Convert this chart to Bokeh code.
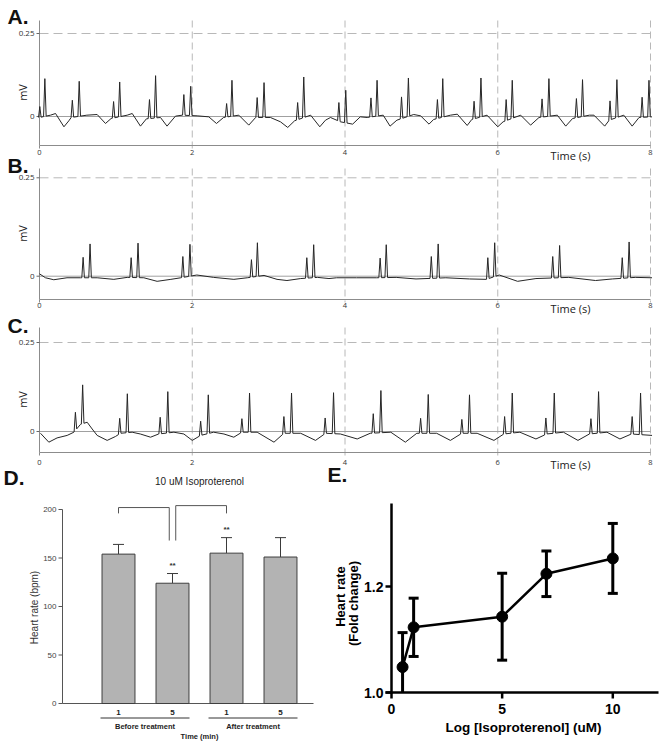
import numpy as np
from bokeh.plotting import figure
from bokeh.models import Range1d
from bokeh.embed import file_html
from bokeh.resources import INLINE
from bokeh.core.properties import value

# ================= DATA =================
TIME_TICKS = [0, 2, 4, 6, 8]
MV_TICKS = [0, 0.25]
MV_TICK_LABELS = ["0", "0.25"]

# ---- Trace A ----
A_p_t = [0.004, 0.43, 0.97, 1.44, 1.89, 2.45, 2.85, 3.38, 3.92, 4.34, 4.74, 5.21, 5.69, 6.11, 6.58, 7.03, 7.47, 7.89]
A_p_v = [0.030, 0.049, 0.045, 0.051, 0.066, 0.039, 0.057, 0.042, 0.042, 0.056, 0.059, 0.051, 0.046, 0.051, 0.053, 0.054, 0.047, 0.058]
A_r_t = [0.07, 0.52, 1.05, 1.52, 1.98, 2.52, 2.94, 3.46, 4.01, 4.42, 4.83, 5.28, 5.78, 6.19, 6.67, 7.11, 7.56, 7.98]
A_r_v = [0.114, 0.106, 0.104, 0.123, 0.091, 0.109, 0.102, 0.119, 0.079, 0.109, 0.116, 0.114, 0.116, 0.109, 0.114, 0.111, 0.111, 0.109]
A_bl_t = [0.0, 0.144, 0.21, 0.32, 0.384, 0.415, 0.62, 0.755, 0.864, 0.938, 1.148, 1.214, 1.322, 1.40,
          1.584, 1.67, 1.78, 1.868, 2.064, 2.217, 2.317, 2.41, 2.61, 2.74, 2.83, 3.024, 3.155, 3.25, 3.34,
          3.55, 3.67, 3.745, 3.81, 3.94, 4.1, 4.2, 4.29, 4.5, 4.59, 4.68, 4.90, 4.99, 5.10, 5.16, 5.38, 5.47,
          5.6, 5.66, 5.86, 6.0, 6.07, 6.3, 6.43, 6.54, 6.78, 6.89, 6.98, 7.2, 7.26, 7.4, 7.46, 7.65, 7.76,
          7.85, 8.02]
A_bl_v = [-0.003, 0.004, 0.009, -0.031, -0.013, -0.003, 0.004, 0.006, -0.021, -0.006, 0.004, 0.009, -0.029, -0.007,
          -0.003, -0.029, 0.001, 0.004, 0.002, -0.001, -0.021, -0.003, 0.004, -0.026, -0.003, -0.003, -0.016, -0.033, -0.013,
          0.004, -0.031, -0.011, -0.003, -0.016, -0.023, -0.001, -0.003, 0.004, -0.029, -0.011, 0.006, 0.002, -0.023, -0.009, 0.004, 0.007,
          -0.027, -0.009, 0.004, -0.031, -0.016, 0.004, -0.026, -0.003, 0.004, -0.029, -0.006, 0.004, 0.004, -0.029, -0.011, 0.004, -0.029,
          -0.003, -0.001]

# ---- Trace B ----
B_p_t = [0.571, 1.20, 1.877, 2.775, 3.50, 4.46, 5.13, 5.87, 6.72, 7.63]
B_p_v = [0.048, 0.047, 0.050, 0.042, 0.047, 0.046, 0.050, 0.047, 0.050, 0.047]
B_r_t = [0.662, 1.29, 1.97, 2.853, 3.59, 4.54, 5.22, 5.96, 6.81, 7.72]
B_r_v = [0.082, 0.084, 0.081, 0.085, 0.080, 0.080, 0.082, 0.085, 0.078, 0.087]
B_bl_t = [0.0, 0.078, 0.187, 0.36, 0.537, 0.755, 0.973, 1.148, 1.366, 1.54, 1.72, 1.85, 2.06, 2.28, 2.545,
          2.72, 2.94, 3.11, 3.24, 3.42, 3.64, 3.79, 3.89, 4.15, 4.41, 4.67, 4.93, 5.32, 5.63, 5.85, 6.02,
          6.26, 6.5, 6.93, 7.28, 7.5, 7.8, 8.02]
B_bl_v = [0.006, -0.004, -0.009, -0.004, -0.004, -0.004, -0.008, -0.003, -0.004, -0.013, -0.008, -0.004, 0.003, -0.003, -0.008,
          -0.004, 0.002, -0.008, -0.011, -0.006, -0.003, -0.006, -0.004, -0.004, -0.004, -0.003, -0.007, -0.004, -0.007, -0.008, 0.003,
          -0.013, -0.006, -0.003, -0.011, -0.007, -0.003, -0.004]

# ---- Trace C ----
C_p_t = [0.47, 1.05, 1.58, 2.11, 2.65, 3.20, 3.74, 4.37, 4.99, 5.53, 6.09, 6.63, 7.22, 7.76]
C_p_v = [0.054, 0.037, 0.040, 0.029, 0.036, 0.042, 0.038, 0.050, 0.037, 0.034, 0.042, 0.038, 0.036, 0.042]
C_r_t = [0.565, 1.15, 1.68, 2.21, 2.75, 3.30, 3.85, 4.47, 5.09, 5.63, 6.19, 6.74, 7.32, 7.87]
C_r_v = [0.131, 0.106, 0.112, 0.103, 0.108, 0.108, 0.109, 0.115, 0.104, 0.103, 0.108, 0.108, 0.112, 0.108]
C_bl_t = [0.013, 0.122, 0.23, 0.362, 0.45, 0.537, 0.624, 0.69, 0.755, 0.886, 0.995, 1.06, 1.213, 1.32, 1.454,
          1.56, 1.76, 1.89, 2.0, 2.11, 2.28, 2.415, 2.544, 2.65, 2.85, 3.07, 3.2, 3.42, 3.614, 3.745, 3.94,
          4.16, 4.33, 4.6, 4.79, 4.94, 5.2, 5.38, 5.53, 5.73, 5.95, 6.08, 6.29, 6.5, 6.64, 6.86, 7.05, 7.2,
          7.43, 7.6, 7.75, 8.02]
C_bl_v = [-0.005, -0.03, -0.018, -0.011, -0.002, 0.02, 0.026, 0.007, -0.011, -0.025, -0.014, -0.005, -0.002, -0.007, -0.016,
          -0.007, -0.002, -0.007, -0.025, -0.011, -0.002, -0.007, -0.016, -0.002, -0.002, -0.03, -0.005, -0.005, -0.025, -0.005, -0.007,
          -0.021, -0.005, -0.002, -0.03, -0.005, -0.005, -0.025, -0.005, -0.005, -0.025, -0.007, -0.002, -0.021, -0.007, -0.002, -0.025, -0.007,
          -0.002, -0.021, -0.007, -0.011]

# ---- Panel D ----
D_time = ["1", "5", "1", "5"]
D_mean = [154, 124, 155, 151]
D_err = [10, 10, 16, 20]
D_sig = ["", "**", "**", ""]
D_groups = ["Before treatment", "After treatment"]
D_ticks = [0, 50, 100, 150, 200]

# ---- Panel E ----
E_conc = [0.5, 1, 5, 7, 10]
E_fold = [1.048, 1.123, 1.143, 1.224, 1.253]
E_err = [0.065, 0.055, 0.082, 0.043, 0.066]
E_xticks = [0, 5, 10]
E_yticks = [1.0, 1.2]
E_yticklabels = ["1.0", "1.2"]

# ================= LAYOUT HELPERS =================
ARIAL = "Liberation Sans"
SANS = "Open Sans"
W, H = 660, 742
LETTER_SIZE = "21px"


def build_trace(bl_t, bl_v, p_t, p_v, r_t, r_v, hw=0.017):
    spikes = sorted(zip(list(p_t) + list(r_t), list(p_v) + list(r_v)))
    pts = [(t, v) for t, v in zip(bl_t, bl_v) if all(abs(t - s) > hw for s, _ in spikes)]
    for s, pk in spikes:
        pts.append((s - hw, float(np.interp(s - hw, bl_t, bl_v))))
        pts.append((s, pk))
        pts.append((s + hw, float(np.interp(s + hw, bl_t, bl_v))))
    pts.sort()
    return [q[0] for q in pts], [q[1] for q in pts]


# pixel -> data mappings of each panel (one shared canvas, one pair of ranges per panel)
FRAME_L, XPX = 39, 76.375
ecg_dx = lambda px: (px - FRAME_L) / XPX
mk_dy = lambda zero_px, q_px: (lambda py: (zero_px - py) / ((zero_px - q_px) / 0.25))
dyA = mk_dy(116, 33)
dyB = mk_dy(275.7, 177.3)
dyC = mk_dy(431, 342)
ddx = lambda px: 1 + (px - 118) / 54.0
ddy = lambda py: (703 - py) / 0.97
edx = lambda px: (px - 391) / 22.13
edy = lambda py: E_yticks[0] + (692 - py) / 530.0

p = figure(width=W, height=H,
           x_range=Range1d(ecg_dx(0), ecg_dx(W)), y_range=Range1d(dyA(H), dyA(0)),
           x_axis_type=None, y_axis_type=None,
           min_border=0, min_border_left=0, min_border_right=0,
           min_border_top=0, min_border_bottom=0,
           output_backend="svg", toolbar_location=None)
p.outline_line_color = None
p.background_fill_color = "white"
p.border_fill_color = "white"
p.extra_x_ranges = {"ecg": Range1d(ecg_dx(0), ecg_dx(W)),
                    "d": Range1d(ddx(0), ddx(W)),
                    "e": Range1d(edx(0), edx(W))}
p.extra_y_ranges = {"a": Range1d(dyA(H), dyA(0)),
                    "b": Range1d(dyB(H), dyB(0)),
                    "c": Range1d(dyC(H), dyC(0)),
                    "d": Range1d(ddy(H), ddy(0)),
                    "e": Range1d(edy(H), edy(0))}


def rn(xn, yn):
    return dict(x_range_name=xn, y_range_name=yn)


def txt(r, x, y, s, size, font=ARIAL, bold=False, align="center", baseline="middle",
        angle=0.0, color="#222222"):
    p.text(x=[x], y=[y], text=[s], angle=angle, text_align=align, text_baseline=baseline,
           text_font=value(font), text_font_size=size,
           text_font_style="bold" if bold else "normal", text_color=color, **r)


# ================= PANELS A-C =================
AXC = "#8c8c8c"
GRIDC = "#b8b8b8"


def ecg_panel(yn, dy, letter, letter_y, fr_top, fr_bot, trace, mv_y, lab_y, time_y):
    r = rn("ecg", yn)
    dx = ecg_dx
    yb, yt = dy(fr_bot), dy(fr_top)
    xr = TIME_TICKS[-1]
    gx = TIME_TICKS[1:]
    p.segment(x0=gx, y0=[yt] * len(gx), x1=gx, y1=[dy(fr_bot + 3)] * len(gx),
              line_color=GRIDC, line_width=1, line_dash="7 4", **r)
    p.segment(x0=[0], y0=[MV_TICKS[1]], x1=[xr], y1=[MV_TICKS[1]],
              line_color=GRIDC, line_width=1, line_dash="9 5", **r)
    p.segment(x0=[0], y0=[0], x1=[xr], y1=[0], line_color="#a0a0a0", line_width=1, **r)
    p.segment(x0=[0, 0, 0], y0=[yb, yb, yb], x1=[0, xr, 0], y1=[yt, yb, dy(fr_bot + 3)],
              line_color=AXC, line_width=1, **r)
    p.segment(x0=[dx(FRAME_L - 3)] * len(MV_TICKS), y0=MV_TICKS, x1=[0] * len(MV_TICKS),
              y1=MV_TICKS, line_color="#666666", line_width=1, **r)
    p.text(x=[dx(FRAME_L - 5)] * len(MV_TICKS), y=MV_TICKS, text=MV_TICK_LABELS,
           text_align="right", text_baseline="middle", text_font=value(SANS),
           text_font_size="8px", text_color="#333333", **r)
    p.text(x=TIME_TICKS, y=[dy(lab_y)] * len(TIME_TICKS), text=[str(t) for t in TIME_TICKS],
           text_align="center", text_baseline="middle", text_font=value(SANS),
           text_font_size="7.5px", text_color="#333333", **r)
    tx, ty = trace
    p.line(tx, ty, line_color="#262626", line_width=1, **r)
    txt(r, dx(7), dy(letter_y), letter, LETTER_SIZE, bold=True, align="left", color="#111111")
    txt(r, dx(22), dy(mv_y), "mV", "11px", font=SANS, angle=np.pi / 2)
    txt(r, dx(570), dy(time_y), "Time (s)", "11px", font=SANS)


ecg_panel("a", dyA, "A.", 16, 20, 145,
          build_trace(A_bl_t, A_bl_v, A_p_t, A_p_v, A_r_t, A_r_v), 92, 152, 155)
ecg_panel("b", dyB, "B.", 165, 168, 299,
          build_trace(B_bl_t, B_bl_v, B_p_t, B_p_v, B_r_t, B_r_v), 233, 305, 308)
ecg_panel("c", dyC, "C.", 324.5, 327, 452,
          build_trace(C_bl_t, C_bl_v, C_p_t, C_p_v, C_r_t, C_r_v), 399, 462, 464)

# ================= PANEL D =================
rD = rn("d", "d")
D_AX_L, D_AX_R = 62, 313
DAX = "#555555"
xs = list(range(1, len(D_mean) + 1))
tops = [m + e for m, e in zip(D_mean, D_err)]
p.segment(x0=[ddx(D_AX_L), ddx(D_AX_L)], y0=[0, 0], x1=[ddx(D_AX_L), ddx(D_AX_R)],
          y1=[D_ticks[-1], 0], line_color=DAX, line_width=1, **rD)
p.segment(x0=[ddx(D_AX_L - 4)] * len(D_ticks), y0=D_ticks, x1=[ddx(D_AX_L)] * len(D_ticks),
          y1=D_ticks, line_color=DAX, line_width=1, **rD)
p.text(x=[ddx(D_AX_L - 6)] * len(D_ticks), y=D_ticks, text=[str(t) for t in D_ticks],
       text_align="right", text_baseline="middle", text_font=value(ARIAL),
       text_font_size="8px", text_color="#444444", **rD)
p.segment(x0=xs, y0=D_mean, x1=xs, y1=tops, line_color="#3a3a3a", line_width=1, **rD)
p.scatter(x=xs, y=tops, marker="dash", size=11, line_color="#3a3a3a", line_width=1, **rD)
p.vbar(x=xs, top=D_mean, bottom=0, width=0.61, fill_color="#b3b3b3",
       line_color="#3f3f3f", line_width=1, **rD)
p.text(x=[x for x, s in zip(xs, D_sig) if s], y=[t + 8 for t, s in zip(tops, D_sig) if s],
       text=[s for s in D_sig if s], text_align="center", text_baseline="middle",
       text_font=value(ARIAL), text_font_style="bold", text_font_size="8px",
       text_color="#333333", **rD)
# significance brackets: bar1 -> bar2, bar2 -> bar3
br_xs = [[1, 1, 1.94, 1.94], [2.06, 2.06, 3, 3]]
br_ys = [[196, 202, 202, 168], [168, 204, 204, 196]]
p.multi_line(xs=br_xs, ys=br_ys, line_color="#555555", line_width=1, **rD)
p.text(x=xs, y=[ddy(712)] * len(xs), text=D_time, text_align="center", text_baseline="middle",
       text_font=value(ARIAL), text_font_style="bold", text_font_size="8px",
       text_color="#222222", **rD)
g_x0 = [xs[2 * g] - 0.333 for g in range(len(D_groups))]
g_x1 = [xs[2 * g + 1] + 0.315 for g in range(len(D_groups))]
p.segment(x0=g_x0, y0=[ddy(717.5)] * 2, x1=g_x1, y1=[ddy(717.5)] * 2,
          line_color="#333333", line_width=1, **rD)
p.text(x=[(a + b) / 2 for a, b in zip(g_x0, g_x1)], y=[ddy(726)] * 2, text=D_groups,
       text_align="center", text_baseline="middle", text_font=value(ARIAL),
       text_font_style="bold", text_font_size="7.5px", text_color="#222222", **rD)
txt(rD, 2.5, ddy(736), "Time (min)", "7.5px", bold=True)
txt(rD, ddx(3), ddy(476.5), "D.", LETTER_SIZE, bold=True, align="left", color="#111111")
txt(rD, ddx(199), ddy(481), "10 uM Isoproterenol", "10px")
txt(rD, ddx(34), ddy(607), "Heart rate (bpm)", "10px", angle=np.pi / 2, color="#333333")

# ================= PANEL E =================
rE = rn("e", "e")
y_floor = E_yticks[0]
p.segment(x0=[0], y0=[edy(693)], x1=[0], y1=[edy(503)], line_color="black", line_width=2.5, **rE)
p.segment(x0=[edx(385)], y0=[y_floor], x1=[edx(658)], y1=[y_floor], line_color="black",
          line_width=2.5, **rE)
p.segment(x0=[edx(385)] * len(E_yticks), y0=E_yticks, x1=[0] * len(E_yticks), y1=E_yticks,
          line_color="black", line_width=2.5, **rE)
p.segment(x0=E_xticks, y0=[y_floor] * len(E_xticks), x1=E_xticks, y1=[edy(698)] * len(E_xticks),
          line_color="black", line_width=2.5, **rE)
p.text(x=[edx(383)] * len(E_yticks), y=E_yticks, text=E_yticklabels, text_align="right",
       text_baseline="middle", text_font=value(ARIAL), text_font_style="bold",
       text_font_size="14px", text_color="black", **rE)
p.text(x=E_xticks, y=[edy(708)] * len(E_xticks), text=[str(t) for t in E_xticks],
       text_align="center", text_baseline="middle", text_font=value(ARIAL),
       text_font_style="bold", text_font_size="14px", text_color="black", **rE)
lo = [m - e for m, e in zip(E_fold, E_err)]
hi = [m + e for m, e in zip(E_fold, E_err)]
lo_vis = [max(v, y_floor) for v in lo]
p.segment(x0=E_conc, y0=lo_vis, x1=E_conc, y1=hi, line_color="black", line_width=3, **rE)
p.scatter(x=E_conc, y=hi, marker="dash", size=10, line_color="black", line_width=3, **rE)
p.scatter(x=[x for x, v in zip(E_conc, lo) if v >= y_floor], y=[v for v in lo if v >= y_floor],
          marker="dash", size=10, line_color="black", line_width=3, **rE)
p.line(E_conc, E_fold, line_color="black", line_width=2.5, **rE)
p.scatter(x=E_conc, y=E_fold, size=11, marker="circle", fill_color="black",
          line_color="black", **rE)
txt(rE, edx(327), edy(473.5), "E.", LETTER_SIZE, bold=True, align="left", color="#111111")
txt(rE, edx(523), edy(727), "Log [Isoproterenol] (uM)", "13.5px", bold=True, color="black")
txt(rE, edx(340), edy(596), "Heart rate", "13px", bold=True, angle=np.pi / 2, color="black")
txt(rE, edx(353), edy(603), "(Fold change)", "13px", bold=True, angle=np.pi / 2, color="black")

open("out.html", "w").write(file_html(p, INLINE))
